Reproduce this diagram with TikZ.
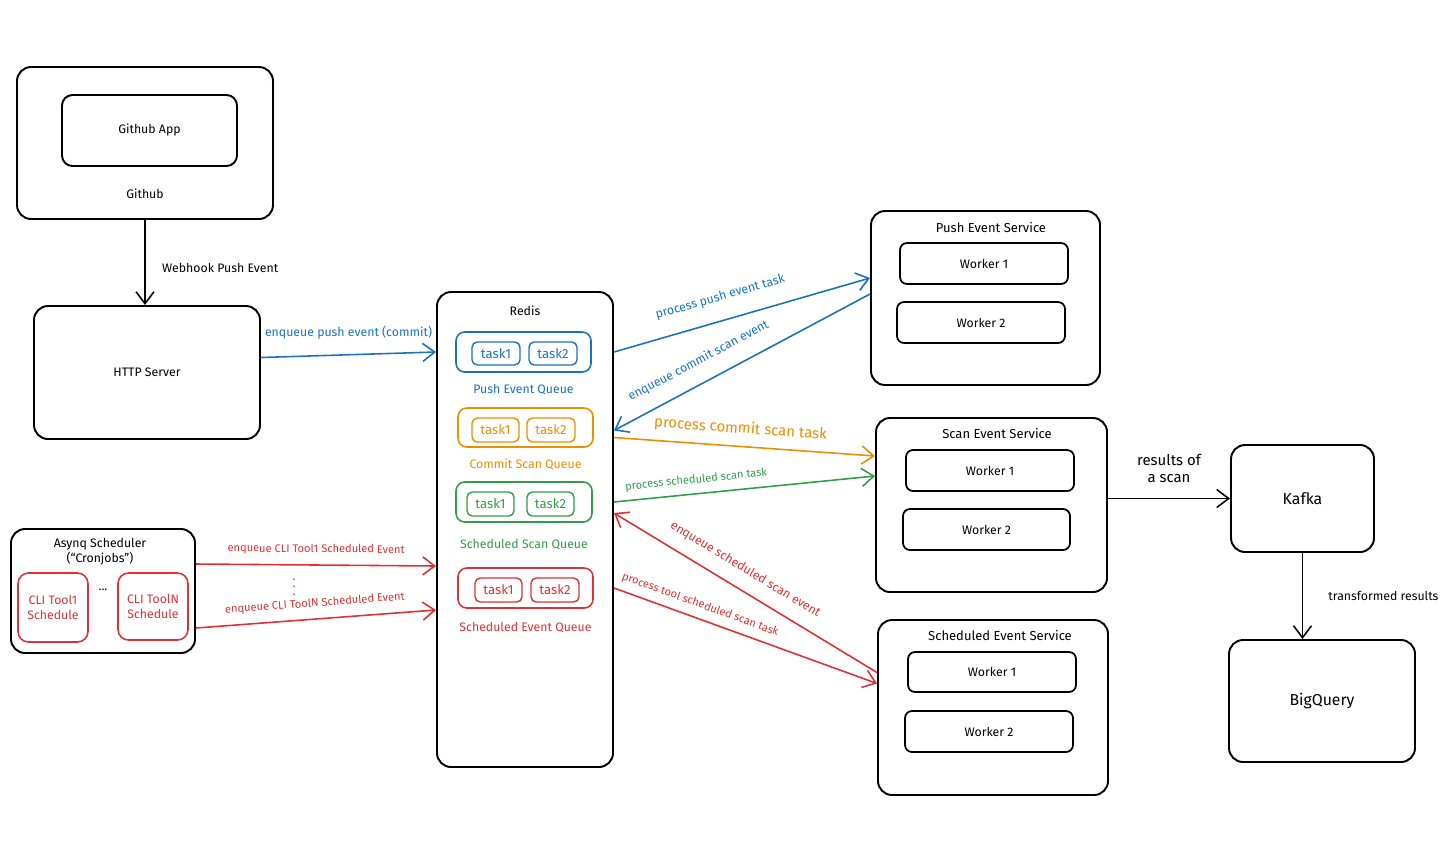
\documentclass[tikz,border=0pt]{standalone}
\usepackage{fontspec}
\setmainfont{Fira Sans}
\usepackage{tikz}
\usetikzlibrary{arrows.meta,calc,positioning}
\definecolor{pushblue}{HTML}{1971C2}
\definecolor{commitorange}{HTML}{F08C00}
\definecolor{scangreen}{HTML}{2F9E44}
\definecolor{eventred}{HTML}{E03131}
\tikzset{
  box size/.style 2 args = {minimum width=#1*0.02cm, minimum height=#2*0.02cm},
  box/.style       = {draw=black, line width=1.1pt, rounded corners=8pt,
                      inner sep=0pt, font=\fontsize{7}{8.5}\selectfont},
  inner box/.style = {box, rounded corners=6pt},
  worker/.style    = {box, line width=1pt, rounded corners=4pt},
  big box/.style   = {box, font=\fontsize{9}{11}\selectfont},
  queue box/.style = {draw=#1, line width=0.9pt, rounded corners=5pt, inner sep=0pt},
  task box/.style  = {draw=#1, text=#1, line width=0.8pt, rounded corners=3pt,
                      inner sep=0pt, font=\fontsize{7.5}{9}\selectfont},
  cli box/.style   = {draw=eventred, text=eventred, line width=0.9pt,
                      rounded corners=6pt, inner sep=0pt, align=center,
                      font=\fontsize{7}{8.5}\selectfont},
  lbl/.style       = {font=\fontsize{7}{8.5}\selectfont},
  title lbl/.style = {font=\fontsize{7.4}{9}\selectfont},
  small lbl/.style = {font=\fontsize{6.3}{7.5}\selectfont},
  flow/.style      = {-{Straight Barb[length=2.4mm, width=3.6mm]}, line width=0.9pt},
}

\begin{document}
\begin{tikzpicture}[x=0.02cm, y=-0.02cm]
  \useasboundingbox (0,0) rectangle (1456,846);

  % github side
  \node[box, box size={256}{152}] (github) at (145,143) {};
  \node[inner box, box size={175}{71}] (ghapp) at (149.5,130.5) {Github App};
  \node[lbl] (ghlabel) at (145,194) {Github};
  \node[box, box size={226}{133}] (http) at (147,372.5) {HTTP Server};

  % asynq scheduler
  \node[box, box size={184}{124}] (asynq) at (103,591) {};
  \node[lbl, align=center] (asynqlabel) at (100,552) {Asynq Scheduler\\(“Cronjobs”)};
  \node[cli box, box size={70}{69}] (cli1) at (53,607.5) {CLI Tool1\\Schedule};
  \node[cli box, box size={70}{67}] (clin) at (153,606.5) {CLI ToolN\\Schedule};
  \node[lbl] (clidots) at (103,590) {...};

  % redis and its queues
  \node[box, box size={176}{475}] (redis) at (525,529.5) {};
  \node[lbl] (redislabel) at ($(redis.north)+(0,20)$) {Redis};

  \node[queue box=pushblue, box size={135}{40}] (pushq) at (523.5,352) {};
  \node[task box=pushblue, box size={48}{23}] (pushq1) at (496,353.5) {task1};
  \node[task box=pushblue, box size={48}{23}] (pushq2) at (553,353.5) {task2};
  \node[lbl, text=pushblue, below=3pt of pushq] (pushqlabel) {Push Event Queue};

  \node[queue box=commitorange, box size={135}{39}] (commitq) at (525.5,427.5) {};
  \node[task box=commitorange, box size={47}{24}] (commitq1) at (495.5,430) {task1};
  \node[task box=commitorange, box size={48}{24}] (commitq2) at (551,430) {task2};
  \node[lbl, text=commitorange, below=3pt of commitq] (commitqlabel) {Commit Scan Queue};

  \node[queue box=scangreen, box size={136}{40}] (schedq) at (524,502) {};
  \node[task box=scangreen, box size={47}{24}] (schedq1) at (490.5,504) {task1};
  \node[task box=scangreen, box size={47}{24}] (schedq2) at (550.5,504) {task2};
  \node[lbl, text=scangreen, below=6pt of schedq] (schedqlabel) {Scheduled Scan Queue};

  \node[queue box=eventred, box size={135}{40}] (eventq) at (525.5,588) {};
  \node[task box=eventred, box size={47}{24}] (eventq1) at (498.5,590) {task1};
  \node[task box=eventred, box size={48}{24}] (eventq2) at (555,590) {task2};
  \node[lbl, text=eventred, below=4pt of eventq] (eventqlabel) {Scheduled Event Queue};

  % services
  \node[box, box size={229}{174}] (pushsvc) at (985.5,298) {};
  \node[title lbl] (pushsvclabel) at (991,227) {Push Event Service};
  \node[worker, box size={168}{41}] (pushw1) at (984,263.5) {Worker 1};
  \node[worker, box size={168}{41}] (pushw2) at (981,322.5) {Worker 2};

  \node[box, box size={231}{174}] (scansvc) at (991.5,505) {};
  \node[title lbl] (scansvclabel) at (997,433) {Scan Event Service};
  \node[worker, box size={168}{41}] (scanw1) at (990,470.5) {Worker 1};
  \node[worker, box size={167}{41}] (scanw2) at (986.5,529.5) {Worker 2};

  \node[box, box size={230}{175}] (schedsvc) at (993,707.5) {};
  \node[title lbl] (schedsvclabel) at (1000,635) {Scheduled Event Service};
  \node[worker, box size={168}{40}] (schedw1) at (992,672) {Worker 1};
  \node[worker, box size={168}{41}] (schedw2) at (989,731.5) {Worker 2};

  % sinks
  \node[big box, box size={143}{107}] (kafka) at (1302.5,498.5) {Kafka};
  \node[big box, box size={186}{122}] (bigquery) at (1322,701) {BigQuery};

  % connectors
  \draw[flow] (github.south) -- (github.south |- http.north)
    node[lbl, right, pos=0.56, xshift=6pt] {Webhook Push Event};
  \draw[flow, pushblue] ($(http.east)+(0,-15)$) -- (redis.west |- pushq)
    node[lbl, text=pushblue, midway, above=5pt] {enqueue push event (commit)};

  \draw[flow, eventred] ($(asynq.east)+(0,-27)$) -- ($(redis.west |- eventq)+(0,-22)$)
    node[small lbl, text=eventred, midway, sloped, above=2pt] {enqueue CLI Tool1 Scheduled Event};
  \draw[flow, eventred] ($(asynq.east)+(0,37)$) -- ($(redis.west |- eventq)+(0,22)$)
    node[small lbl, text=eventred, midway, sloped, above=2pt] {enqueue CLI ToolN Scheduled Event};
  \node[text=eventred, font=\scriptsize] (clivdots) at (294,582) {$\vdots$};

  \draw[flow, pushblue] (redis.east |- pushq) -- ($(pushsvc.west)+(0,-20)$)
    node[lbl, text=pushblue, sloped, above=6pt, pos=0.44] {process push event task};
  \draw[flow, pushblue] ($(pushsvc.west)+(0,-4)$) -- ($(redis.east |- commitq)+(0,3)$)
    node[lbl, text=pushblue, sloped, above=5pt, pos=0.63] {enqueue commit scan event};
  \draw[flow, commitorange] ($(redis.east |- commitq)+(0,10)$) -- ($(scansvc.west)+(0,-49)$)
    node[font=\fontsize{8.5}{10}\selectfont, text=commitorange, sloped, above=2pt, pos=0.48]
    {process commit scan task};
  \draw[flow, scangreen] (redis.east |- schedq) -- ($(scansvc.west)+(0,-29)$)
    node[small lbl, text=scangreen, sloped, above=1pt, pos=0.32] {process scheduled scan task};
  \draw[flow, eventred] ($(schedsvc.west)+(0,-35)$) -- ($(redis.east |- schedq)+(0,11)$)
    node[lbl, text=eventred, sloped, above=4pt, pos=0.54] {enqueue scheduled scan event};
  \draw[flow, eventred] (redis.east |- eventq) -- ($(schedsvc.west)+(0,-24)$)
    node[small lbl, text=eventred, sloped, above=1pt, pos=0.31] {process tool scheduled scan task};

  \draw[flow] (scansvc.east |- kafka.west) -- (kafka.west)
    node[font=\fontsize{8.5}{10}\selectfont, align=center, midway, above=5pt] {results of\\a scan};
  \draw[flow] (kafka.south) -- (kafka.south |- bigquery.north)
    node[lbl, right, midway, xshift=11pt] {transformed results};
\end{tikzpicture}
\end{document}
